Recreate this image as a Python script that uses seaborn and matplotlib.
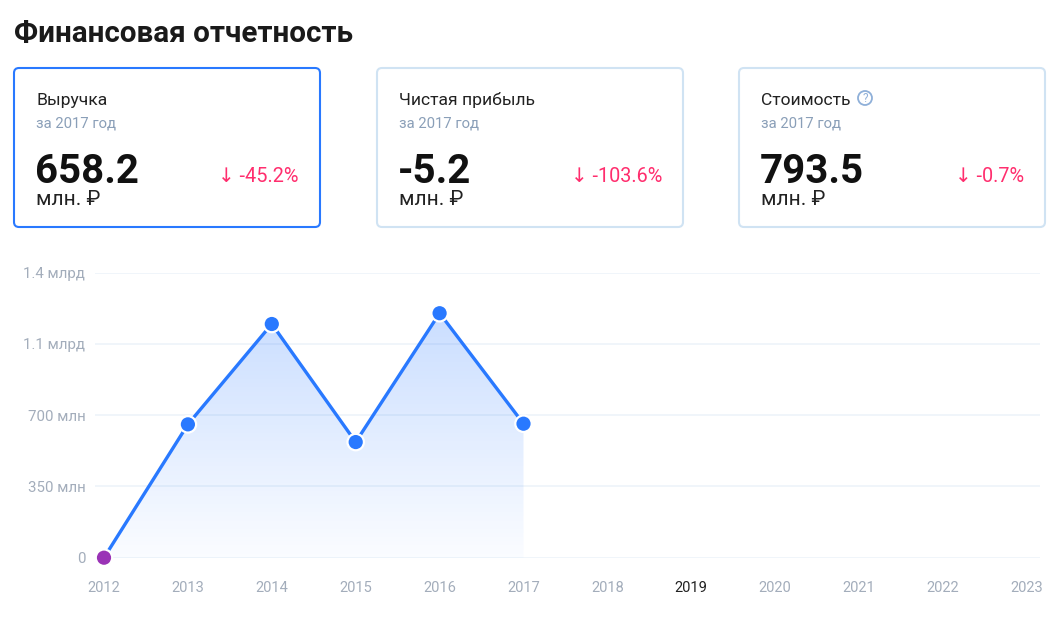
import numpy as np
import pandas as pd
import matplotlib
matplotlib.use("Agg")
import matplotlib.pyplot as plt
import seaborn as sns
from matplotlib.patches import FancyBboxPatch, Circle
from matplotlib.colors import LinearSegmentedColormap

# ---------------- data ----------------
title = "Финансовая отчетность"
years = ["2012", "2013", "2014", "2015", "2016", "2017",
         "2018", "2019", "2020", "2021", "2022", "2023"]
revenue_years = ["2012", "2013", "2014", "2015", "2016", "2017"]
revenue = [0, 655, 1148, 568, 1201, 658.2]          # млн ₽
y_ticks = [0, 350, 700, 1050, 1400]
y_tick_labels = ["0", "350 млн", "700 млн", "1.1 млрд", "1.4 млрд"]
highlight_year = "2019"

card_titles = ["Выручка", "Чистая прибыль", "Стоимость"]
card_period = "за 2017 год"
card_values = ["658.2", "-5.2", "793.5"]
card_unit = "млн. ₽"
card_changes = ["-45.2%", "-103.6%", "-0.7%"]

# ---------------- style ----------------
sns.set_theme(style="white")
plt.rcParams["font.family"] = ["Roboto", "DejaVu Sans"]

BLUE = "#2979ff"
PURPLE = "#9a33b6"
GRID = "#edf3fa"
TICK = "#a3adbb"

W, H = 1062, 617
fig = plt.figure(figsize=(W / 100, H / 100), dpi=100)
fig.patch.set_facecolor("white")

# overlay axes in pixel coordinates (for title + cards)
ov = fig.add_axes([0, 0, 1, 1])
ov.set_xlim(0, W)
ov.set_ylim(H, 0)
ov.axis("off")

ov.text(14, 42, title, fontsize=21.3, fontweight="bold", color="#1a1a1a",
        va="baseline", ha="left")

card_x = [14, 377, 739]
card_w = 306
card_top, card_h = 68, 159
for i, x0 in enumerate(card_x):
    ec = BLUE if i == 0 else "#d0e3f3"
    box = FancyBboxPatch((x0, card_top), card_w, card_h,
                         boxstyle="round,pad=0,rounding_size=5",
                         fc="white", ec=ec, lw=1.5)
    ov.add_patch(box)
    ov.text(x0 + 22, 105, card_titles[i], fontsize=12.6, color="#222222",
            va="baseline", ha="left")
    ov.text(x0 + 22, 128, card_period, fontsize=10.7, color="#8a9fb8",
            va="baseline", ha="left")
    ov.text(x0 + 21, 183, card_values[i], fontsize=29, fontweight="bold",
            color="#111111", va="baseline", ha="left")
    ov.text(x0 + 22, 205, card_unit, fontsize=15, color="#222222",
            va="baseline", ha="left")
    ov.text(x0 + card_w - 21, 182, "↓ " + card_changes[i], fontsize=14.3,
            color="#ff2e6e", va="baseline", ha="right")

# question icon next to "Стоимость"
ov.add_patch(Circle((865, 98), 7, fc="none", ec="#8fb0d9", lw=1.3))
ov.text(865, 98.5, "?", fontsize=8.5, color="#8fb0d9", ha="center", va="center")

# ---------------- chart ----------------
left, right = 95, 1040
top, bottom = 272.7, 557.7
ax = fig.add_axes([left / W, (H - bottom) / H, (right - left) / W, (bottom - top) / H])
ax.set_facecolor("none")

df = pd.DataFrame({"year": revenue_years, "value": revenue})
df["x"] = [years.index(y) for y in df["year"]]
df["kind"] = ["first"] + ["rest"] * (len(df) - 1)

# gradient area under the line
poly = ax.fill_between(df["x"], df["value"], 0, color="none", lw=0)
cmap = LinearSegmentedColormap.from_list(
    "g", [(0.161, 0.475, 1.0, 0.02), (0.161, 0.475, 1.0, 0.25)])
grad = np.linspace(0, 1, 256).reshape(-1, 1)
im = ax.imshow(grad, extent=[df["x"].min(), df["x"].max(), 0, max(revenue)],
               origin="lower", aspect="auto", cmap=cmap, zorder=1)
im.set_clip_path(poly.get_paths()[0], transform=ax.transData)

sns.lineplot(data=df, x="x", y="value", color=BLUE, lw=2.4, ax=ax, zorder=3)
sns.scatterplot(data=df, x="x", y="value", hue="kind",
                palette={"first": PURPLE, "rest": BLUE}, s=140,
                edgecolor="white", linewidth=1.6, ax=ax, zorder=4,
                legend=False, clip_on=False)

x_per = 83.9
ax.set_xlim((left - 104) / x_per, (right - 104) / x_per)
ax.set_ylim(0, 1400)
ax.set_xticks(range(len(years)))
ax.set_xticklabels(years)
ax.set_yticks(y_ticks)
ax.set_yticklabels(y_tick_labels)
ax.tick_params(axis="x", length=0, pad=17, labelsize=10.5, labelcolor=TICK)
ax.tick_params(axis="y", length=0, pad=7, labelsize=10.8, labelcolor=TICK)
for lbl in ax.get_xticklabels():
    if lbl.get_text() == highlight_year:
        lbl.set_color("#222222")
ax.yaxis.grid(True, color=GRID, lw=1.2)
ax.xaxis.grid(False)
ax.set_axisbelow(True)
for s in ax.spines.values():
    s.set_visible(False)
ax.set_xlabel("")
ax.set_ylabel("")

fig.savefig("out.png", dpi=100, facecolor="white")
